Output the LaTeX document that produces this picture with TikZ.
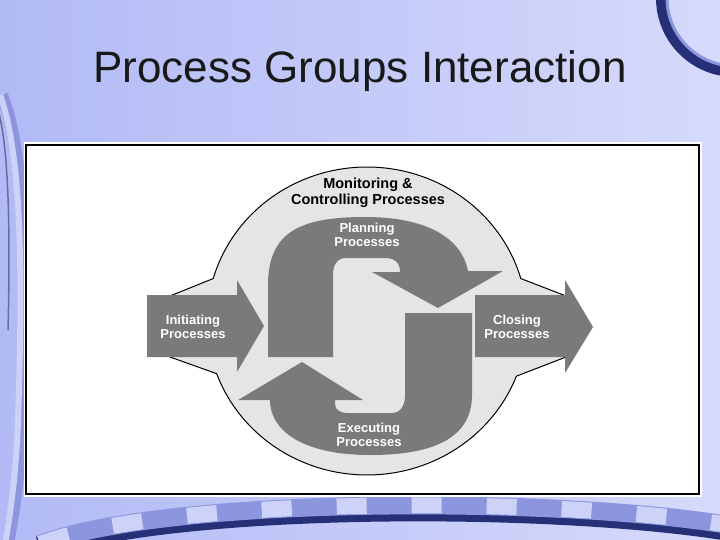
\documentclass[tikz,border=0pt]{standalone}
\usepackage{fontspec}
\setmainfont{Liberation Sans}
\usetikzlibrary{calc}
\definecolor{bgL}{RGB}{178,186,246}
\definecolor{bgR}{RGB}{214,218,251}
\definecolor{navy}{RGB}{38,48,118}
\definecolor{tube}{RGB}{140,150,222}
\definecolor{tubelight}{RGB}{205,210,248}
\definecolor{arrowgray}{RGB}{122,122,122}
\definecolor{discgray}{RGB}{229,229,229}
\tikzset{
  shapefill/.style={fill=arrowgray},
  wlabel/.style={text=white, align=center, inner sep=0pt, font=\bfseries\fontsize{13}{14.5}\selectfont},
  blabel/.style={text=black, align=center, inner sep=0pt, font=\bfseries\fontsize{14.5}{15.5}\selectfont},
}
\begin{document}
\begin{tikzpicture}[x=1pt,y=-1pt]
\useasboundingbox (0,0) rectangle (720,540);
% background
\shade[left color=bgL, right color=bgR] (0,0) rectangle (720,540);
% top-right ring
\draw[navy, line width=10pt] plot[domain=95:182, samples=40] ({735+74*cos(\x)},{-2+74*sin(\x)});
\draw[tube, line width=3pt] plot[domain=95:182, samples=40] ({735+68*cos(\x)},{-2+68*sin(\x)});
% left swoosh
\draw[tube, line width=12pt] (2,95) .. controls (28,160) and (26,300) .. (22,420) .. controls (20,480) and (12,520) .. (8,545);
\draw[tubelight, line width=6pt] (0,95) .. controls (24,160) and (22,300) .. (18,420) .. controls (16,480) and (9,520) .. (5,545);
\draw[navy!70, line width=1.5pt] (-2,110) .. controls (10,150) and (10,250) .. (8,330);
% bottom band
\draw[navy, line width=24pt] (40,548) .. controls (170,500) and (560,500) .. (735,530);
\draw[tube, line width=18pt] (40,544) .. controls (170,496) and (560,496) .. (735,526);
\draw[tubelight, line width=16pt, dash pattern=on 30pt off 45pt] (40,544) .. controls (170,496) and (560,496) .. (735,526);
% title
\node[anchor=base, inner sep=0pt, font=\fontsize{44}{50}\selectfont, text=black!90] (title) at (360,83) {Process Groups Interaction};
% frame
\draw[white, line width=5pt] (26,145) rectangle (699,494);
\draw[black, line width=2.5pt, fill=white] (26,145) rectangle (699,494);
% disc
\filldraw[fill=discgray, draw=black, line width=1pt]
  plot[domain=196:344, samples=80] ({367+160*cos(\x)},{321+154*sin(\x)})
  -- (566,296) -- (566,357)
  -- plot[domain=21:160, samples=80] ({367+160*cos(\x)},{321+154*sin(\x)})
  -- (170,357) -- (170,296) -- cycle;
% planning arrow
\fill[shapefill] (268,357) -- (268,285)
  .. controls (268,232) and (300,217) .. (365,217)
  .. controls (430,217) and (462,240) .. (468,271)
  -- (503,271) -- (438,308) -- (372,272) -- (400,272)
  .. controls (400,263) and (395,258) .. (385,258)
  -- (346,258) .. controls (337,258) and (333,265) .. (333,275)
  -- (333,357) -- cycle;
% executing arrow
\fill[shapefill] (405,313) -- (472,313) -- (472,395)
  .. controls (472,440) and (430,455) .. (370,455)
  .. controls (305,455) and (270,432) .. (270,400)
  -- (238,400) -- (302,362) -- (363,400) -- (335,400)
  -- (335,404) .. controls (335,410) and (340,413) .. (348,413)
  -- (392,413) .. controls (400,413) and (405,406) .. (405,396)
  -- cycle;
% initiating arrow
\fill[shapefill] (147,295) -- (237,295) -- (237,280) -- (264,326) -- (237,372) -- (237,357) -- (147,357) -- cycle;
% closing arrow
\fill[shapefill] (475,295) -- (565,295) -- (565,280) -- (593,327) -- (565,373) -- (565,357) -- (475,357) -- cycle;
% labels
\node[blabel] (mc) at (368,193) {Monitoring \&\\Controlling Processes};
\node[wlabel] (plan) at (367,235) {Planning\\Processes};
\node[wlabel] (init) at (193,327) {Initiating\\Processes};
\node[wlabel] (close) at (517,327) {Closing\\Processes};
\node[wlabel] (exec) at (369,435) {Executing\\Processes};
\end{tikzpicture}
\end{document}
